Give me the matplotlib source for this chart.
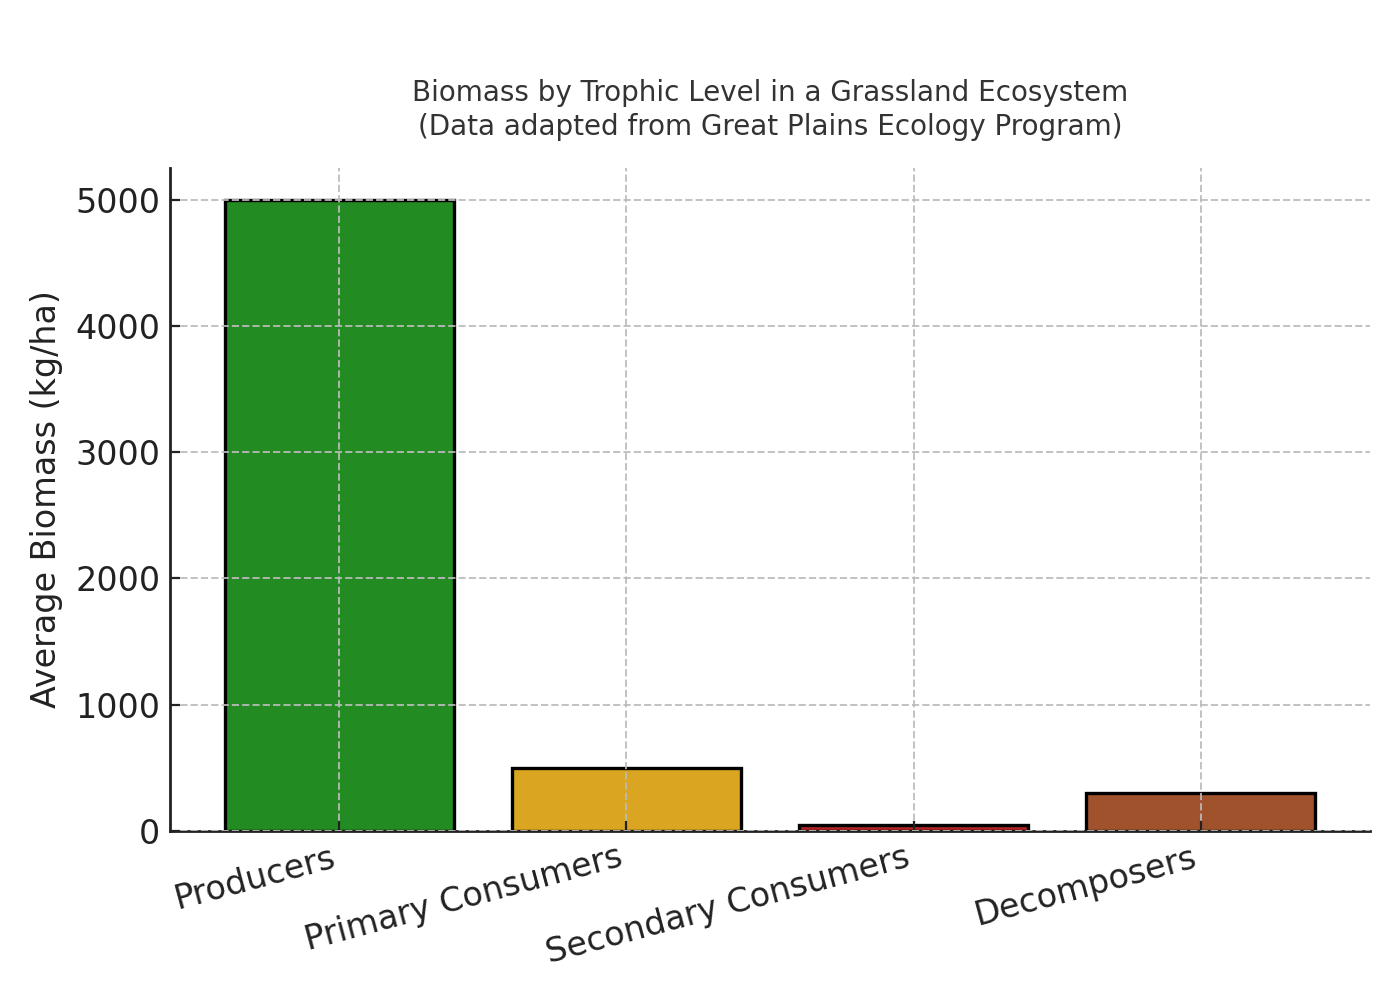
import matplotlib
matplotlib.use("Agg")
import matplotlib.pyplot as plt

levels = ['Producers', 'Primary Consumers', 'Secondary Consumers', 'Decomposers']
biomass = [5000, 500, 50, 300]
colors = ['forestgreen', 'goldenrod', 'firebrick', 'sienna']

fig, ax = plt.subplots(figsize=(7, 5), dpi=200)
fig.subplots_adjust(left=0.1214, right=0.9786, top=0.832, bottom=0.169)

ax.bar(levels, biomass, color=colors, edgecolor='black', linewidth=1.2, width=0.8)

ax.set_title("Biomass by Trophic Level in a Grassland Ecosystem\n(Data adapted from Great Plains Ecology Program)",
             fontsize=10, color='#333333', pad=12, linespacing=1.25)
ax.set_ylabel('Average Biomass (kg/ha)', fontsize=12, color='#222222', labelpad=4.5)
ax.tick_params(axis='both', labelsize=12, colors='#222222', direction='in')
plt.setp(ax.get_xticklabels(), rotation=15, ha='right')

ax.grid(True, linestyle='--', color='#bbbbbb', linewidth=0.7, alpha=0.9)
ax.set_axisbelow(False)
for s in ['top', 'right']:
    ax.spines[s].set_visible(False)
for s in ['left', 'bottom']:
    ax.spines[s].set_color('#222222')
    ax.spines[s].set_linewidth(1.0)

fig.savefig('out.png', dpi=200)
